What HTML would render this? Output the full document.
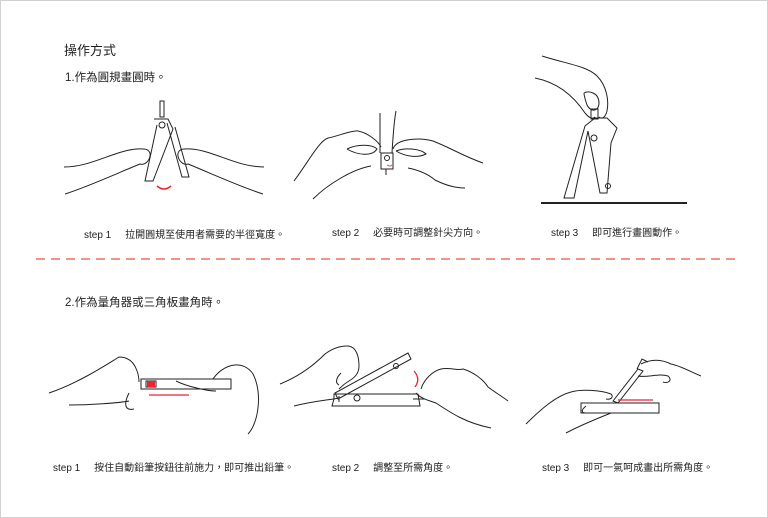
<!DOCTYPE html>
<html><head><meta charset="utf-8"><style>
body{margin:0;background:#fff;}
.pg{position:relative;width:766px;height:516px;border:1px solid #d0d0d0;overflow:hidden;font-family:"Liberation Sans","Noto Sans CJK TC",sans-serif;color:#222;}
.t{position:absolute;white-space:nowrap;}
svg{position:absolute;left:0;top:0;}
</style></head><body><div class="pg">
<div class="t" style="left:63px;top:39px;font-size:13px;">操作方式</div>
<div class="t" style="left:64px;top:68px;font-size:11.5px;">1.作為圓規畫圓時。</div>
<div class="t" style="left:64px;top:293px;font-size:11.5px;">2.作為量角器或三角板畫角時。</div>
<div class="t" style="left:83px;top:225px;font-size:10px;">step 1 &nbsp;&nbsp;&nbsp;&nbsp;拉開圓規至使用者需要的半徑寬度。</div>
<div class="t" style="left:331px;top:223px;font-size:10px;">step 2 &nbsp;&nbsp;&nbsp;&nbsp;必要時可調整針尖方向。</div>
<div class="t" style="left:550px;top:223px;font-size:10px;">step 3 &nbsp;&nbsp;&nbsp;&nbsp;即可進行畫圓動作。</div>
<div class="t" style="left:52px;top:458px;font-size:10px;">step 1 &nbsp;&nbsp;&nbsp;&nbsp;按住自動鉛筆按鈕往前施力，即可推出鉛筆。</div>
<div class="t" style="left:331px;top:458px;font-size:10px;">step 2 &nbsp;&nbsp;&nbsp;&nbsp;調整至所需角度。</div>
<div class="t" style="left:541px;top:458px;font-size:10px;">step 3 &nbsp;&nbsp;&nbsp;&nbsp;即可一氣呵成畫出所需角度。</div>
<svg width="768" height="518" fill="none" stroke="#222" stroke-width="1">
<line x1="35" y1="258" x2="735" y2="258" stroke="#e8553a" stroke-width="1.3" stroke-dasharray="9,6"/>
<!-- top step1 -->
<path d="M159 100v16h4v-16zM153 118h14l5 10-20 52h-8l12-56M166 122l15 54h7l-14-50"/>
<circle cx="161" cy="124" r="3"/>
<path d="M63 166c30 0 55-20 80-18c12 1 4 18-4 15c-20 8-50 22-75 30M263 166c-30 0-55-20-80-18c-12 1-4 18 4 15c20 8 50 22 75 30"/>
<path d="M156 185q7 6 14 0" stroke="#e23" stroke-width="1.5"/>
<!-- top step2 -->
<path d="M379 112v40M395 110c-2 10-3 25-4 42M380 152h12v16h-12zM385 168v6"/>
<circle cx="386" cy="157" r="2.5"/>
<path d="M386 164q3 2 5 0" stroke="#e8553a"/>
<path d="M293 180c15-20 25-40 34-43c10-2 25-8 30-7c10 2 20 10 23 16M346 148c10-5 25-5 30 0c-5 8-20 6-30 0M312 198c15-15 40-30 58-33M392 148c3-10 25-12 40-8c20 8 30 15 50 22M407 167c10 2 20 6 27 12c10 5 20 8 30 8M395 150c10-4 25-2 30 3c-8 4-20 3-30-3"/>
<!-- top step3 -->
<line x1="540" y1="202" x2="686" y2="202" stroke-width="2"/>
<path d="M541 55c25 8 45 10 55 20c10 10 12 25 10 35c-2 8-6 8-8 6M534 77c25 5 40 20 50 35c5 6 8 6 10 4M583 92c5-3 15 0 15 10c0 8-8 10-12 2c-2-6-3-10-3-12M590 108h7v10h-7zM584 125l10-8h12l10 10-6 15l-4 50h-7l-12-62l-14 67h-10z"/>
<circle cx="593" cy="137" r="3"/><circle cx="607" cy="185" r="2.5"/>
<!-- bottom step1 -->
<path d="M140 378h90v10h-90zM145 380h10v6h-10z" />
<rect x="146" y="380" width="8" height="6" fill="#e23" stroke="none"/>
<line x1="148" y1="394" x2="188" y2="394" stroke="#e23" stroke-width="1.2"/>
<path d="M48 392c30-10 60-30 70-36c20 0 20 25 20 25M68 404c20 0 50-2 60-4M128 392c-5 10-5 18 5 16M212 378c10-15 30-20 40-5c10 20 5 50-5 60M175 380c10 5 30 10 40 10"/>
<!-- bottom step2 -->
<path d="M334 392l73-40l3 6l-73 40zM333 398l-2 7h88l-2-12h-84zM338 395v6"/>
<circle cx="395" cy="365" r="2.5"/><circle cx="356" cy="397" r="3"/>
<path d="M279 383c20-8 35-20 45-30c8-6 15-8 22-8c10 0 12 12 12 20c0 8-5 12-10 15c-5 3-8 6-10 8M293 405c20-5 35-6 45-8M340 372c-5 5-6 10-2 12"/>
<path d="M413 370q7 8 1 16" stroke="#e23" stroke-width="1.3"/>
<path d="M420 388c3-10 12-18 20-20c10-2 15 2 22 0c10 3 20 10 25 18c8 6 15 10 20 14M415 392c5 6 15 8 20 10c15 10 30 20 55 25M412 398h12"/>
<!-- bottom step3 -->
<path d="M580 402h78v10h-78zM612 400l25-32l5 2l-25 32zM636 368l5-10l6 3"/>
<line x1="617" y1="399" x2="652" y2="399" stroke="#e23" stroke-width="1.2"/>
<path d="M525 423c15-15 30-28 45-32c10-3 30-2 40 2c3 3 0 6-5 5M565 432c15-8 30-14 45-20M585 405c-5 4-5 7 0 7h15M640 363c10-5 20-5 30 0c10 2 20 8 30 12M637 375c10 2 20-3 30 0c5 4 0 8-5 6"/>
</svg>
</div></body></html>
